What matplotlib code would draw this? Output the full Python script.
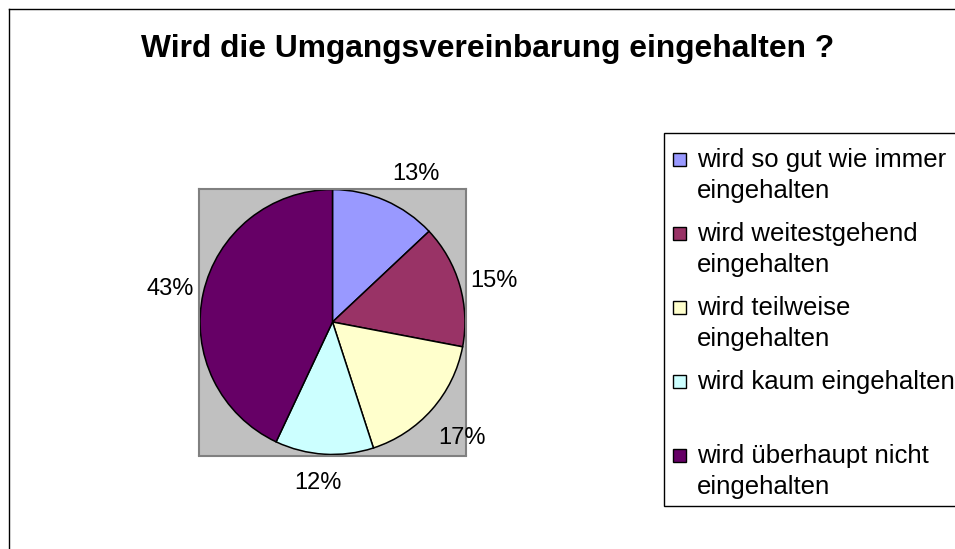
import matplotlib
matplotlib.use('Agg')
import matplotlib.pyplot as plt
from matplotlib.patches import Rectangle
from matplotlib.lines import Line2D

plt.rcParams['font.family'] = ['Liberation Sans', 'DejaVu Sans']

title = 'Wird die Umgangsvereinbarung eingehalten ?'
categories = ['wird so gut wie immer\neingehalten',
              'wird weitestgehend\neingehalten',
              'wird teilweise\neingehalten',
              'wird kaum eingehalten',
              'wird überhaupt nicht\neingehalten']
shares = [13, 15, 17, 12, 43]
colors = ['#9999FF', '#993366', '#FFFFCC', '#CCFFFF', '#660066']

# Excel "best fit" label placement, as pixel nudges from the radial spot
label_nudge = [(17, 5), (1.5, 5.5), (4, 5.5), (-4.5, -6), (1, 3)]

W, H = 955, 549
fig = plt.figure(figsize=(W / 100, H / 100), dpi=100)


def fx(px):
    return px / W


def fy(py):
    return 1 - py / H


# chart area border (only left and top visible)
fig.add_artist(Line2D([fx(8.5), fx(8.5)], [0, fy(8.5)], color='black', lw=1))
fig.add_artist(Line2D([fx(8.5), 1], [fy(8.5), fy(8.5)], color='black', lw=1))

fig.text(fx(487.5), fy(57), title, ha='center', va='baseline',
         fontsize=22.9, fontweight='bold')

# plot area (grey square) with the pie
ax = fig.add_axes([fx(199), fy(456), fx(466) - fx(199), fy(188) - fy(456)])
ax.set_facecolor('#C0C0C0')
for s in ax.spines.values():
    s.set_edgecolor('#808080')
    s.set_linewidth(1.5)
wedges, texts = ax.pie(shares, colors=colors,
                       labels=[f'{v}%' for v in shares],
                       startangle=90, counterclock=False,
                       labeldistance=1.26, radius=1, frame=True,
                       wedgeprops=dict(edgecolor='black', linewidth=1.1),
                       textprops=dict(fontsize=17))
ax.set_xlim(-1.008, 1.008)
ax.set_ylim(-1.008, 1.008)
ax.set_xticks([])
ax.set_yticks([])
px_per_unit = 133.0
for t, (dx, dy) in zip(texts, label_nudge):
    t.set_ha('center')
    t.set_va('center')
    x, y = t.get_position()
    t.set_position((x + dx / px_per_unit, y - dy / px_per_unit))

# legend box, cut off at the right edge like the original
fig.add_artist(Rectangle((fx(663.5), fy(505.5)), 1, fy(133.5) - fy(505.5),
                         transform=fig.transFigure, facecolor='white',
                         edgecolor='black', lw=1))
line_step = 31
for i, (lab, col) in enumerate(zip(categories, colors)):
    cy = 159.5 + 73.9 * i
    fig.add_artist(Rectangle((fx(673), fy(cy + 6.5)), 13 / W, 13 / H,
                             transform=fig.transFigure, facecolor=col,
                             edgecolor='black', lw=1))
    n_extra = lab.count('\n')
    # baseline alignment follows the last line of a multi-line text
    fig.text(fx(697), fy(cy + 8 + line_step * n_extra), lab,
             ha='left', va='baseline', fontsize=18.5, linespacing=1.37)

fig.savefig('out.png', dpi=100)
